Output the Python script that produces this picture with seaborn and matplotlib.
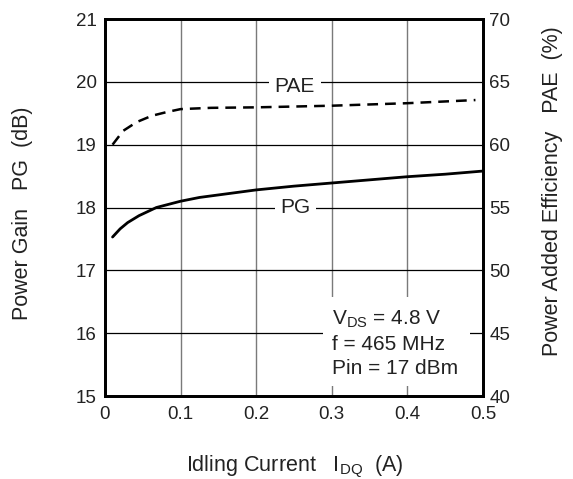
import matplotlib
matplotlib.use("Agg")
import matplotlib.pyplot as plt
import seaborn as sns
import pandas as pd
from matplotlib.patches import Rectangle

# ---- data ----
idq_pg = [0.01, 0.02, 0.03, 0.045, 0.068, 0.10, 0.125, 0.15, 0.20, 0.25, 0.30, 0.35, 0.40, 0.45, 0.50]
pg_db = [17.53, 17.66, 17.76, 17.87, 18.00, 18.10, 18.16, 18.20, 18.28, 18.34, 18.39, 18.44, 18.49, 18.53, 18.58]

idq_pae = [0.01, 0.024, 0.042, 0.062, 0.082, 0.10, 0.14, 0.20, 0.30, 0.40, 0.49]
pae_pct = [60.0, 61.1, 61.8, 62.3, 62.6, 62.83, 62.93, 62.97, 63.1, 63.3, 63.55]

x_ticks = [0, 0.1, 0.2, 0.3, 0.4, 0.5]
x_tick_labels = ["0", "0.1", "0.2", "0.3", "0.4", "0.5"]
pg_ticks = [15, 16, 17, 18, 19, 20, 21]
pae_ticks = [40, 45, 50, 55, 60, 65, 70]

cond_lines = [r"$\mathregular{V_{DS}}$ = 4.8 V", "f = 465 MHz", "Pin = 17 dBm"]

sns.set_theme(style="white")
plt.rcParams["font.family"] = ["Liberation Sans", "DejaVu Sans"]
plt.rcParams["mathtext.fontset"] = "custom"
plt.rcParams["mathtext.rm"] = "Liberation Sans"
plt.rcParams["mathtext.it"] = "Liberation Sans:italic"

fig = plt.figure(figsize=(5.73, 4.79), dpi=100)
ax = fig.add_axes([105 / 573, 1 - 396 / 479, 378 / 573, 377 / 479])
ax2 = ax.twinx()

df_pg = pd.DataFrame({"IDQ": idq_pg, "PG": pg_db})
df_pae = pd.DataFrame({"IDQ": idq_pae, "PAE": pae_pct})

sns.lineplot(data=df_pg, x="IDQ", y="PG", ax=ax, color="black", lw=2.0, zorder=5)
sns.lineplot(data=df_pae, x="IDQ", y="PAE", ax=ax2, color="black", lw=1.8,
             dashes=False, zorder=5)
ax2.lines[0].set_dashes((4.3, 2.8))

ax.set_xlim(0, 0.5)
ax.set_ylim(15, 21)
ax2.set_ylim(40, 70)
ax.set_xticks(x_ticks)
ax.set_xticklabels(x_tick_labels)
ax.set_yticks(pg_ticks)
ax2.set_yticks(pae_ticks)

ax.set_axisbelow(True)
ax.xaxis.grid(True, color="#7a7a7a", lw=1.0)
ax.yaxis.grid(True, color="black", lw=0.9)
ax2.grid(False)

for a in (ax, ax2):
    for s in a.spines.values():
        s.set_color("black")
        s.set_linewidth(2.0)
ax.tick_params(axis="both", length=0, labelsize=13.5, colors="#222222")
ax.tick_params(axis="x", pad=7)
ax.tick_params(axis="y", pad=6)
ax2.tick_params(axis="y", length=0, labelsize=13.5, pad=4.5, colors="#222222")

# axis labels
ax.set_xlabel(r"Idling Current   $\mathregular{I_{DQ}}$  (A)", fontsize=15.5, color="#222222",
              va="center")
ax.xaxis.set_label_coords(0.503, -0.188)
ax.set_ylabel("Power Gain   PG  (dB)", fontsize=15.5, color="#222222", va="center")
ax.yaxis.set_label_coords(-0.217, 0.485)
ax2.set_ylabel("Power Added Efficiency   PAE  (%)", fontsize=15.5, color="#222222", va="center")
ax2.yaxis.set_label_coords(1.183, 0.544)

# curve labels over the grid lines
ax.text(0.251, 19.93, "PAE", fontsize=15, ha="center", va="center", color="#222222", zorder=4,
        bbox=dict(facecolor="white", edgecolor="none", pad=4))
ax.text(0.252, 18.0, "PG", fontsize=15, ha="center", va="center", color="#222222", zorder=4,
        bbox=dict(facecolor="white", edgecolor="none", pad=4))

# conditions box
ax.add_patch(Rectangle((0.288, 15.16), 0.195, 1.42, facecolor="white", edgecolor="none", zorder=3))
for txt, yv in zip(cond_lines, [16.22, 15.82, 15.44]):
    ax.text(0.30, yv, txt, fontsize=15, ha="left", va="center", color="#222222", zorder=4)

fig.savefig("out.png", dpi=100)
